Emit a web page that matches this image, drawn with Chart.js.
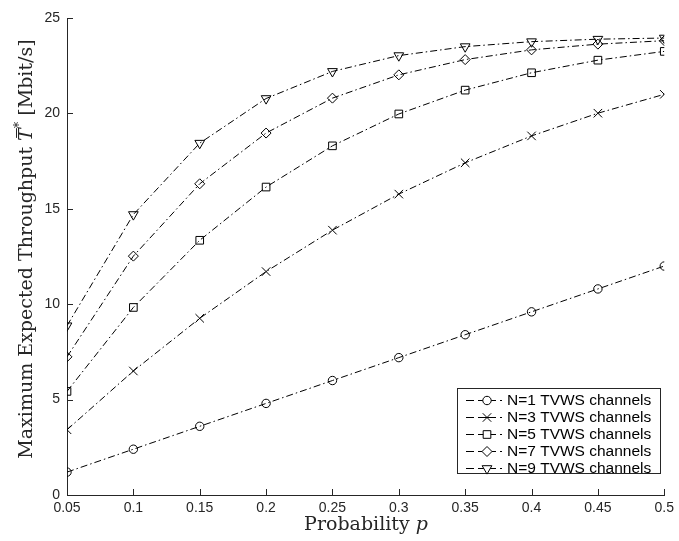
<!DOCTYPE html>
<html>
<head>
<meta charset="utf-8">
<script src="https://cdn.jsdelivr.net/npm/chart.js@4"></script>
<style>
  html, body { margin: 0; padding: 0; background: #fff; }
</style>
</head>
<body>
<canvas id="chart" width="679" height="541"></canvas>
<script>
// probability p on the x axis
const probs = [0.05, 0.1, 0.15, 0.2, 0.25, 0.3, 0.35, 0.4, 0.45, 0.5];
const yTicks = [0, 5, 10, 15, 20, 25];

// max expected throughput [Mbit/s]
const n1 = [1.2, 2.4, 3.6, 4.8, 6.0, 7.2, 8.4, 9.6, 10.8, 12.0];
const n3 = [3.42, 6.5, 9.26, 11.71, 13.88, 15.77, 17.41, 18.82, 20.01, 21.0];
const n5 = [5.43, 9.83, 13.35, 16.14, 18.3, 19.97, 21.22, 22.13, 22.79, 23.25];
const n7 = [7.24, 12.52, 16.31, 18.97, 20.8, 22.02, 22.82, 23.33, 23.63, 23.81];
const n9 = [8.87, 14.7, 18.44, 20.78, 22.2, 23.03, 23.5, 23.76, 23.89, 23.95];

const labels = ['N=1 TVWS channels', 'N=3 TVWS channels', 'N=5 TVWS channels',
  'N=7 TVWS channels', 'N=9 TVWS channels'];

const dashDot = [7, 3, 1.5, 3];
const axisColor = '#262626';

function series(label, vals, style, radius, rot) {
  return {
    label: label,
    data: vals.map(function (v, i) { return { x: probs[i], y: v } }),
    borderColor: '#000',
    borderWidth: 1,
    borderDash: dashDot,
    fill: false,
    tension: 0,
    pointStyle: style,
    pointRadius: radius,
    pointRotation: rot || 0,
    pointBorderColor: '#000',
    pointBackgroundColor: 'rgba(0,0,0,0)',
    pointBorderWidth: 1
  }
}

const datasets = [
  series(labels[0], n1, 'circle', 4.2),
  series(labels[1], n3, 'crossRot', 6),
  series(labels[2], n5, 'rect', 5.4),
  series(labels[3], n7, 'rectRot', 5),
  series(labels[4], n9, 'triangle', 5.6, 180)
];

// ticks pointing inward + axis titles + matlab style legend
const extras = {
  id: 'extras',
  afterDraw(chart) {
    const ctx = chart.ctx;
    const xs = chart.scales.x, ys = chart.scales.y;
    const area = chart.chartArea;
    ctx.save();
    ctx.strokeStyle = axisColor;
    ctx.lineWidth = 1;
    ctx.beginPath();
    probs.forEach(function (p) {
      const px = Math.round(xs.getPixelForValue(p)) + 0.5;
      ctx.moveTo(px, area.bottom);
      ctx.lineTo(px, area.bottom - 6);
    });
    yTicks.forEach(function (v) {
      const py = Math.round(ys.getPixelForValue(v)) + 0.5;
      ctx.moveTo(area.left, py);
      ctx.lineTo(area.left + 6, py);
    });
    ctx.stroke();

    // axis titles
    ctx.fillStyle = axisColor;
    ctx.textBaseline = 'middle';
    const big = '19px "DejaVu Serif"';
    const yParts = [
      { t: 'Maximum Expected Throughput ', f: big },
      { t: 'T', f: 'italic ' + big, bar: true },
      { t: '*', f: '13px "DejaVu Serif"', dy: -7 },
      { t: ' [Mbit/s]', f: big }
    ];
    drawParts(ctx, yParts, 27, 249, -Math.PI / 2);
    const xParts = [
      { t: 'Probability ', f: big },
      { t: 'p', f: 'italic ' + big }
    ];
    drawParts(ctx, xParts, 366, 525, 0);

    // legend
    const lx = 457, ly = 388, lw = 203, lh = 85;
    ctx.fillStyle = '#fff';
    ctx.fillRect(lx, ly, lw, lh);
    ctx.strokeStyle = axisColor;
    ctx.strokeRect(lx + 0.5, ly + 0.5, lw, lh);
    ctx.font = '15.5px "Liberation Sans", Arial, sans-serif';
    ctx.textAlign = 'left';
    chart.data.datasets.forEach(function (ds, i) {
      const ry = Math.round(ly + 12 + i * 16.9) + 0.5;
      ctx.strokeStyle = '#000';
      ctx.beginPath();
      ctx.moveTo(lx + 9, ry); ctx.lineTo(lx + 17, ry);
      ctx.moveTo(lx + 21, ry); ctx.lineTo(lx + 39, ry);
      ctx.moveTo(lx + 43, ry); ctx.lineTo(lx + 45, ry);
      ctx.stroke();
      ctx.fillStyle = '#fff';
      Chart.helpers.drawPoint(ctx, {
        pointStyle: ds.pointStyle,
        rotation: ds.pointRotation,
        radius: ds.pointRadius,
        borderWidth: 1
      }, lx + 30, ry);
      ctx.fillStyle = '#000';
      ctx.fillText(ds.label, lx + 50, ry + 0.5);
    });
    ctx.restore();
  }
};

function drawParts(ctx, parts, cx, cy, rot) {
  ctx.save();
  ctx.translate(cx, cy);
  ctx.rotate(rot);
  ctx.textAlign = 'left';
  let w = 0;
  parts.forEach(function (p) { ctx.font = p.f; p.w = ctx.measureText(p.t).width; w += p.w; });
  let x = -w / 2;
  parts.forEach(function (p) {
    ctx.font = p.f;
    ctx.fillText(p.t, x, p.dy || 0);
    if (p.bar) {
      ctx.beginPath();
      ctx.lineWidth = 1;
      ctx.moveTo(x + 3, -10.5);
      ctx.lineTo(x + p.w, -10.5);
      ctx.stroke();
    }
    x += p.w;
  });
  ctx.restore();
}

new Chart(document.getElementById('chart'), {
  type: 'line',
  data: { datasets: datasets },
  plugins: [extras],
  options: {
    responsive: false,
    animation: false,
    devicePixelRatio: 1,
    layout: { padding: { top: 18, right: 9, left: 0, bottom: 0 } },
    plugins: {
      legend: { display: false },
      tooltip: { enabled: false }
    },
    scales: {
      x: {
        type: 'linear',
        min: 0.05,
        max: 0.5,
        afterFit: function (scale) { scale.height = 46 },
        afterBuildTicks: function (scale) {
          scale.ticks = probs.map(function (p) { return { value: p } })
        },
        ticks: {
          padding: 5,
          color: axisColor,
          font: { family: '"Liberation Sans", Arial', size: 14 },
          maxRotation: 0,
          autoSkip: false,
          callback: function (v) { return String(Number(v.toFixed(2))) }
        },
        grid: { display: true, drawOnChartArea: false, drawTicks: false },
        border: { display: true, color: axisColor, width: 1 }
      },
      y: {
        min: 0,
        max: 25,
        afterFit: function (scale) { scale.width = 67 },
        afterBuildTicks: function (scale) {
          scale.ticks = yTicks.map(function (v) { return { value: v } })
        },
        ticks: {
          padding: 7,
          color: axisColor,
          font: { family: '"Liberation Sans", Arial', size: 14 }
        },
        grid: { display: true, drawOnChartArea: false, drawTicks: false },
        border: { display: true, color: axisColor, width: 1 }
      }
    }
  }
});
</script>
</body>
</html>
